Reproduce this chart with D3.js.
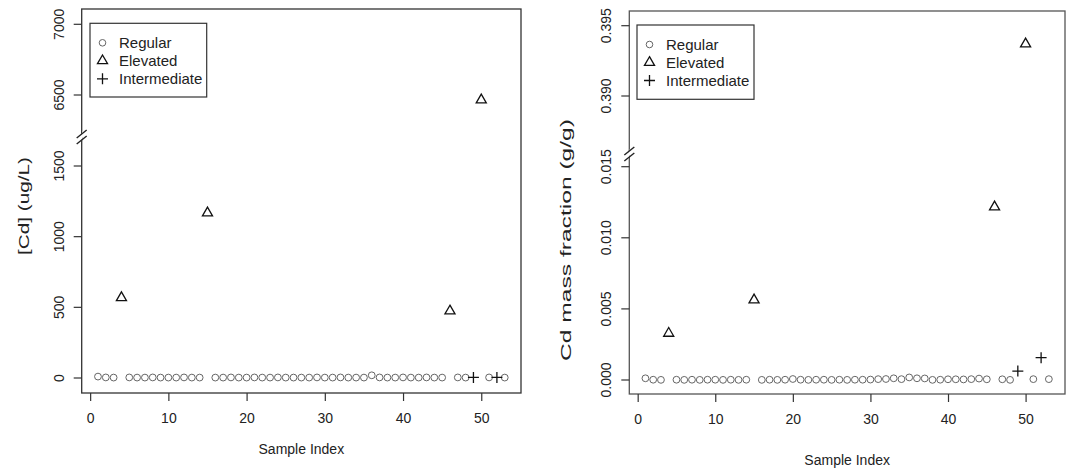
<!DOCTYPE html>
<html>
<head>
<meta charset="utf-8">
<script src="https://cdn.jsdelivr.net/npm/d3@7"></script>
<style>
  body { margin: 0; background: #fff; }
  text { font-family: "Liberation Sans", Arial, sans-serif; fill: #222; }
</style>
</head>
<body>
<svg id="chart" width="1073" height="475"></svg>
<script>
// sample indices per group
const regularIdx = [1, 2, 3, 5, 6, 7, 8, 9, 10, 11, 12, 13, 14,
  16, 17, 18, 19, 20, 21, 22, 23, 24, 25, 26, 27, 28, 29, 30, 31, 32, 33, 34, 35,
  36, 37, 38, 39, 40, 41, 42, 43, 44, 45, 47, 48, 51, 53]
const elevatedIdx = [4, 15, 46, 50]
const intermediateIdx = [49, 52]

// [Cd] in ug/L
const concRegular = [10, 4, 3, 4, 3, 3, 4, 3, 3, 3, 4, 3, 3,
  3, 3, 4, 3, 3, 4, 3, 3, 4, 3, 3, 3, 3, 4, 3, 3, 4, 3, 3, 3,
  19, 4, 3, 3, 4, 3, 3, 4, 3, 3, 4, 3, 4, 3]
const concElevated = [568, 1168, 474, 6465]
const concIntermediate = [4, 4]

// Cd mass fraction g/g
const fracRegular = [0.00012, 0.00002, 0.00001, 0.00002, 0.00001, 0.00002, 0.00001, 0.00002, 0.00002, 0.00001, 0.00002, 0.00001, 0.00002,
  0.00001, 0.00002, 0.00001, 0.00002, 0.00007, 0.00002, 0.00001, 0.00002, 0.00002, 0.00001, 0.00002, 0.00001, 0.00002, 0.00002, 0.00003, 0.00006, 0.00007, 0.00012, 0.00006, 0.00018,
  0.00012, 0.00011, 0.00001, 0.00002, 0.00005, 0.00005, 0.00004, 0.00006, 0.0001, 0.00005, 0.00005, 0.00001, 0.00006, 0.00006]
const fracElevated = [0.00328, 0.00563, 0.01217, 0.3937]
const fracIntermediate = [0.00063, 0.00157]

const xTicks = [0, 10, 20, 30, 40, 50]
const legendLabels = ["Regular", "Elevated", "Intermediate"]

const svg = d3.select("#chart")
svg.append("rect").attr("width", 1073).attr("height", 475).attr("fill", "#fff")

function drawPoints(g, x, y, idx, vals, kind) {
  let pts = idx.map((d, i) => ({i: d, v: vals[i]}))
  if (kind == "circle") {
    g.selectAll(null).data(pts).enter().append("circle")
      .attr("cx", d => x(d.i)).attr("cy", d => y(d.v)).attr("r", 3.4)
      .attr("fill", "none").attr("stroke", "#666").attr("stroke-width", 1)
  } else if (kind == "tri") {
    g.selectAll(null).data(pts).enter().append("path")
      .attr("d", d3.symbol(d3.symbolTriangle).size(44))
      .attr("transform", d => `translate(${x(d.i)},${y(d.v)})`)
      .attr("fill", "none").attr("stroke", "#111").attr("stroke-width", 1.3)
  } else {
    g.selectAll(null).data(pts).enter().append("path")
      .attr("d", "M-5.5,0H5.5M0,-5.5V5.5")
      .attr("transform", d => `translate(${x(d.i)},${y(d.v)})`)
      .attr("stroke", "#111").attr("stroke-width", 1.3)
  }
}

function panel(p) {
  let g = svg.append("g")
  let x = d3.scaleLinear().domain([-1.08, 55.08]).range([p.left, p.right])
  let yLow = d3.scaleLinear().domain(p.lowDom).range(p.lowRange)
  let yHigh = d3.scaleLinear().domain(p.highDom).range(p.highRange)
  let y = v => v > p.cut ? yHigh(v) : yLow(v)

  // box
  g.append("rect")
    .attr("x", p.left).attr("y", p.top)
    .attr("width", p.right - p.left).attr("height", p.bottom - p.top)
    .attr("fill", "none").attr("stroke", p.boxColor).attr("stroke-width", 1.3)

  // x axis
  let xa = g.append("g").attr("transform", `translate(0,${p.bottom})`)
    .call(d3.axisBottom(x).tickValues(xTicks).tickSize(8).tickPadding(12))
  xa.select(".domain").remove()
  xa.selectAll("line").attr("stroke", "#333").attr("stroke-width", 1.2)
  xa.selectAll("text").attr("font-size", 14).attr("fill", "#222")
    .attr("font-family", "Liberation Sans, Arial, sans-serif")

  // y axis, two segments
  let yt = p.lowTicks.map(v => ({v: v, pos: yLow(v)}))
    .concat(p.highTicks.map(v => ({v: v, pos: yHigh(v)})))
  g.selectAll(null).data(yt).enter().append("line")
    .attr("x1", p.left - 8).attr("x2", p.left)
    .attr("y1", d => d.pos).attr("y2", d => d.pos)
    .attr("stroke", "#333").attr("stroke-width", 1.2)
  g.selectAll(null).data(yt).enter().append("text")
    .attr("transform", d => `translate(${p.left - 23},${d.pos}) rotate(-90)`)
    .attr("text-anchor", "middle").attr("dy", "0.35em")
    .attr("font-size", 14)
    .text(d => p.fmt(d.v))

  // axis break marks
  let b = p.breakY
  g.append("path")
    .attr("d", `M${p.left - 2},${b + 4}L${p.left + 2},${b - 5}L${p.left + 2},${b - 11}L${p.left - 2},${b - 2}Z`)
    .attr("fill", "#fff")
  g.selectAll(null).data([0, -6]).enter().append("line")
    .attr("x1", p.left - 5).attr("y1", d => b + d + 4)
    .attr("x2", p.left + 5).attr("y2", d => b + d - 4)
    .attr("stroke", "#222").attr("stroke-width", 1.4)

  // labels
  g.append("text")
    .attr("x", (p.left + p.right) / 2).attr("y", p.xLabY)
    .attr("text-anchor", "middle").attr("font-size", 14)
    .text("Sample Index")
  g.append("text")
    .attr("transform", `translate(${p.yLabX},${p.yLabY}) rotate(-90)`)
    .attr("text-anchor", "middle").attr("dy", "0.35em")
    .attr("font-size", 15)
    .attr("textLength", p.yLabLen).attr("lengthAdjust", "spacingAndGlyphs")
    .text(p.ylab)

  // points
  drawPoints(g, x, y, regularIdx, p.reg, "circle")
  drawPoints(g, x, y, elevatedIdx, p.elev, "tri")
  drawPoints(g, x, y, intermediateIdx, p.inter, "plus")

  // legend
  let lg = g.append("g")
  lg.append("rect")
    .attr("x", p.leg[0]).attr("y", p.leg[1]).attr("width", p.leg[2]).attr("height", p.leg[3])
    .attr("fill", "#fff").attr("stroke", "#333").attr("stroke-width", 1.2)
  let kinds = ["circle", "tri", "plus"]
  legendLabels.forEach((lab, i) => {
    let ly = p.leg[1] + 19.5 + i * 18
    let sx = p.leg[0] + 12.5
    if (kinds[i] == "circle") {
      lg.append("circle").attr("cx", sx).attr("cy", ly).attr("r", 3.3)
        .attr("fill", "none").attr("stroke", "#666")
    } else if (kinds[i] == "tri") {
      lg.append("path").attr("d", d3.symbol(d3.symbolTriangle).size(44))
        .attr("transform", `translate(${sx},${ly})`)
        .attr("fill", "none").attr("stroke", "#111").attr("stroke-width", 1.3)
    } else {
      lg.append("path").attr("d", "M-5.5,0H5.5M0,-5.5V5.5")
        .attr("transform", `translate(${sx},${ly})`)
        .attr("stroke", "#111").attr("stroke-width", 1.3)
    }
    lg.append("text").attr("x", p.leg[0] + 29).attr("y", ly).attr("dy", "0.35em")
      .attr("font-size", 15).text(lab)
  })
}

panel({
  left: 81.7, right: 521, top: 9, bottom: 393,
  lowDom: [0, 1500], lowRange: [378, 166], highDom: [6500, 7000], highRange: [95, 24.3],
  cut: 3000, lowTicks: [0, 500, 1000, 1500], highTicks: [6500, 7000],
  fmt: d3.format("d"), breakY: 140, boxColor: "#333",
  reg: concRegular, elev: concElevated, inter: concIntermediate,
  xLabY: 454, ylab: "[Cd] (ug/L)", yLabX: 24, yLabY: 206, yLabLen: 98,
  leg: [90, 23.3, 116.7, 73.7]
})

panel({
  left: 629.3, right: 1065, top: 11, bottom: 394,
  lowDom: [0, 0.015], lowRange: [380, 166.7], highDom: [0.390, 0.395], highRange: [96, 25.7],
  cut: 0.1, lowTicks: [0, 0.005, 0.010, 0.015], highTicks: [0.390, 0.395],
  fmt: d3.format(".3f"), breakY: 157, boxColor: "#555",
  reg: fracRegular, elev: fracElevated, inter: fracIntermediate,
  xLabY: 465, ylab: "Cd mass fraction (g/g)", yLabX: 566, yLabY: 240, yLabLen: 242,
  leg: [637, 25, 117, 74.3]
})
</script>
</body>
</html>
